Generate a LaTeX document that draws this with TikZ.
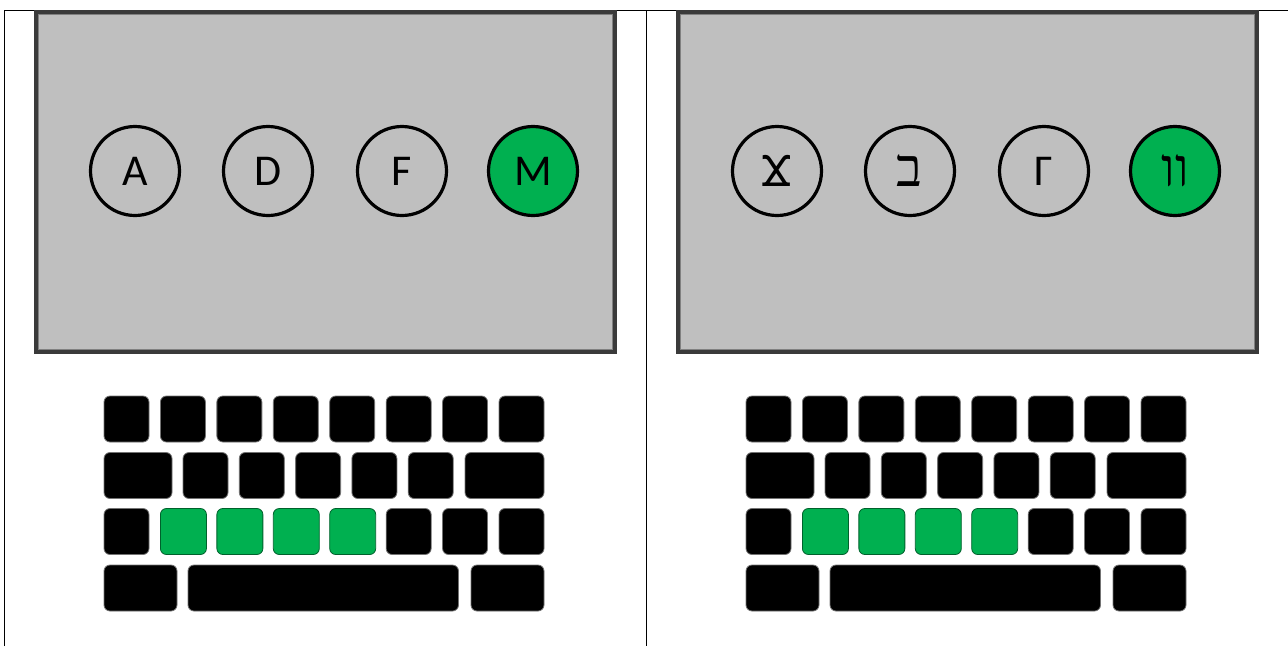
\documentclass[tikz,border=0pt]{standalone}
\usepackage{fontspec}
\setmainfont{Carlito}
\newfontfamily\hebfont[Script=Hebrew]{Liberation Serif}
\newfontfamily\copfont{DejaVu Sans}
\TeXXeTstate=1
\usetikzlibrary{positioning}
\definecolor{keygreen}{HTML}{00B050}
\definecolor{panelgray}{HTML}{BFBFBF}
\definecolor{paneledge}{HTML}{3A3A3A}

\begin{document}
\begin{tikzpicture}[x=1pt,y=-1pt,
  screen/.style={fill=panelgray,draw=paneledge,line width=4pt},
  ring/.style={circle,draw=black,line width=3.2pt,minimum size=89pt,inner sep=0pt,font=\fontsize{44}{44}\selectfont},
  lit/.style={ring,fill=keygreen},
  key/.style={fill=black,draw=black!55,line width=0.8pt,rounded corners=6pt},
  hotkey/.style={fill=keygreen,draw=keygreen!55!black,line width=0.8pt,rounded corners=6pt}]
\useasboundingbox (0,0) rectangle (1288,646);
% table rules
\draw[line width=1pt] (4,646) -- (4,10) -- (1288,10);
\draw[line width=1pt] (646,10) -- (646,646);

% screens
\foreach \dx in {0,642}{
  \draw[screen] (36+\dx,12) rectangle (615+\dx,352);
  \draw[black!50,line width=0.8pt] (38.5+\dx,14.5) rectangle (612.5+\dx,349.5);
}

% left letters
\node[ring] (ltA) at (135,171) {A};
\node[ring] (ltD) at (268,171) {D};
\node[ring] (ltF) at (402,171) {F};
\node[lit]  (ltM) at (533,171) {M};

% right letters
\node[ring] (rtA) at (777,171) {\copfont\fontsize{42}{42}\selectfont Ϫ};
\node[ring] (rtD) at (910,171) {\hebfont\fontsize{54}{54}\selectfont\beginR ב\endR};
\node[ring] (rtF) at (1044,171) {Γ};
\node[lit]  (rtM) at (1175,171) {\hebfont\fontsize{54}{54}\selectfont\beginR וו\endR};

% keyboards
\foreach \dx in {0,642}{
  \begin{scope}[xshift=\dx pt]
  % row 1
  \foreach \i in {0,...,7}
    \draw[key] (104+56.43*\i,396) rectangle ++(45,46);
  % row 2
  \draw[key] (104,452.5) rectangle (172,498.5);
  \foreach \i in {0,...,4}
    \draw[key] (183+56.3*\i,452.5) rectangle ++(45,46);
  \draw[key] (465,452.5) rectangle (544,498.5);
  % row 3
  \foreach \i in {0,5,6,7}
    \draw[key] (104+56.43*\i,508.5) rectangle ++(45,46);
  \foreach \i in {1,...,4}
    \draw[hotkey] (104+56.43*\i,508.5) rectangle ++(46,46);
  % row 4
  \draw[key] (104,565) rectangle (177,611);
  \draw[key] (188,565) rectangle (458.5,611);
  \draw[key] (471,565) rectangle (544,611);
  \end{scope}
}
\end{tikzpicture}
\end{document}
